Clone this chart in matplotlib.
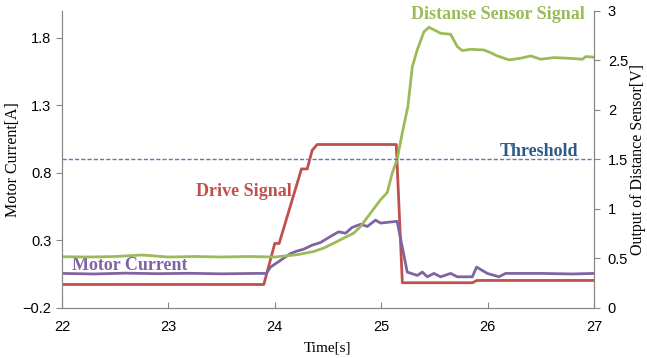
import matplotlib

matplotlib.use("Agg")
import matplotlib.pyplot as plt
import numpy as np

# Drive signal (left axis, A scale)
drive_t = [22.0, 23.897, 24.0, 24.041, 24.251, 24.305, 24.352, 24.399, 25.142, 25.199, 25.857, 25.90, 27.0]
drive_v = [-0.026, -0.026, 0.278, 0.278, 0.83, 0.83, 0.969, 1.011, 1.011, -0.013, -0.013, 0.004, 0.004]

# Motor current (left axis)
motor_t = [22.0, 22.3, 22.6, 22.9, 23.2, 23.5, 23.8, 23.92, 23.96, 24.148, 24.21, 24.27, 24.35,
           24.43, 24.524, 24.60, 24.665, 24.728, 24.806, 24.87, 24.947, 24.994, 25.15, 25.245,
           25.34, 25.387, 25.434, 25.496, 25.559, 25.653, 25.716, 25.857, 25.897, 25.998,
           26.107, 26.17, 26.5, 26.8, 27.0]
motor_v = [0.056, 0.052, 0.058, 0.054, 0.057, 0.053, 0.056, 0.056, 0.103, 0.203, 0.222, 0.235, 0.265,
           0.285, 0.33, 0.364, 0.354, 0.397, 0.42, 0.404, 0.451, 0.429, 0.442, 0.066,
           0.041, 0.066, 0.031, 0.056, 0.031, 0.056, 0.031, 0.031, 0.103, 0.056,
           0.031, 0.056, 0.056, 0.052, 0.056]

# Distance sensor signal (right axis, V)
sensor_t = [22.0, 22.25, 22.5, 22.75, 23.0, 23.25, 23.5, 23.75, 24.0, 24.21, 24.367, 24.46,
            24.618, 24.743, 24.806, 24.9, 24.994, 25.057, 25.104, 25.151, 25.198, 25.251,
            25.293, 25.34, 25.402, 25.449, 25.496, 25.559, 25.653, 25.716, 25.763, 25.841,
            25.966, 26.029, 26.092, 26.201, 26.311, 26.405, 26.499, 26.625, 26.751, 26.892,
            26.924, 27.0]
sensor_v = [0.518, 0.515, 0.52, 0.535, 0.515, 0.52, 0.515, 0.52, 0.515, 0.538, 0.571, 0.605,
            0.689, 0.757, 0.823, 0.959, 1.093, 1.166, 1.362, 1.505, 1.766, 2.034,
            2.438, 2.61, 2.79, 2.835, 2.81, 2.775, 2.765, 2.64, 2.60, 2.613,
            2.606, 2.579, 2.546, 2.506, 2.523, 2.546, 2.513, 2.529, 2.523, 2.513,
            2.54, 2.533]

threshold_v = 1.5

RED = "#c0504d"
PURPLE = "#8064a2"
GREEN = "#9bbb59"
BLUE = "#4f81bd"
SERIF = "Liberation Serif"
SANS = "Liberation Sans"

fig = plt.figure(figsize=(6.47, 3.58), dpi=100)
ax = fig.add_axes([0.0958, 0.1397, 0.8222, 0.8296])
ax2 = ax.twinx()

ax.plot(drive_t, drive_v, color=RED, lw=2.0)
ax.plot(motor_t, motor_v, color=PURPLE, lw=2.0)
ax2.plot(sensor_t, sensor_v, color=GREEN, lw=2.0)
ax2.axhline(threshold_v, color=BLUE, lw=1.0, ls=(0, (3, 1.5)))

ax.set_xlim(22, 27)
ax.set_ylim(-0.2, 2.0)
ax2.set_ylim(0, 3)
ax.set_xticks([22, 23, 24, 25, 26, 27])
ax.set_yticks([-0.2, 0.3, 0.8, 1.3, 1.8])
ax2.set_yticks([0, 0.5, 1, 1.5, 2, 2.5, 3])
ax2.set_yticklabels(["0", "0.5", "1", "1.5", "2", "2.5", "3"])

for a in (ax, ax2):
    a.spines["top"].set_visible(False)
    for s in ("left", "right", "bottom"):
        a.spines[s].set_color("#868686")
    a.tick_params(colors="#868686", labelcolor="black", labelsize=10.5)
    for lab in a.get_xticklabels() + a.get_yticklabels():
        lab.set_family(SANS)
ax.tick_params(axis="x", direction="in", length=4, pad=9)
ax.tick_params(axis="y", direction="out", length=4)
ax2.tick_params(axis="y", direction="out", length=4, pad=6)

ax.set_xlabel("Time[s]", family=SERIF, fontsize=11, labelpad=5)
ax.set_ylabel("Motor Current[A]", family=SERIF, fontsize=11.5, labelpad=1)
ax2.set_ylabel("Output of Distance Sensor[V]", family=SERIF, fontsize=11.5, labelpad=1)

ax2.text(26.10, 2.96, "Distanse Sensor Signal", color=GREEN, family=SERIF, fontweight="bold",
         fontsize=13, ha="center", va="center")
ax2.text(26.48, 1.58, "Threshold", color="#2e5a8a", family=SERIF, fontweight="bold",
         fontsize=13, ha="center", va="center")
ax.text(23.71, 0.66, "Drive Signal", color=RED, family=SERIF, fontweight="bold",
        fontsize=13, ha="center", va="center")
ax.text(22.64, 0.115, "Motor Current", color=PURPLE, family=SERIF, fontweight="bold",
        fontsize=13, ha="center", va="center")

fig.savefig("out.png", dpi=100)
